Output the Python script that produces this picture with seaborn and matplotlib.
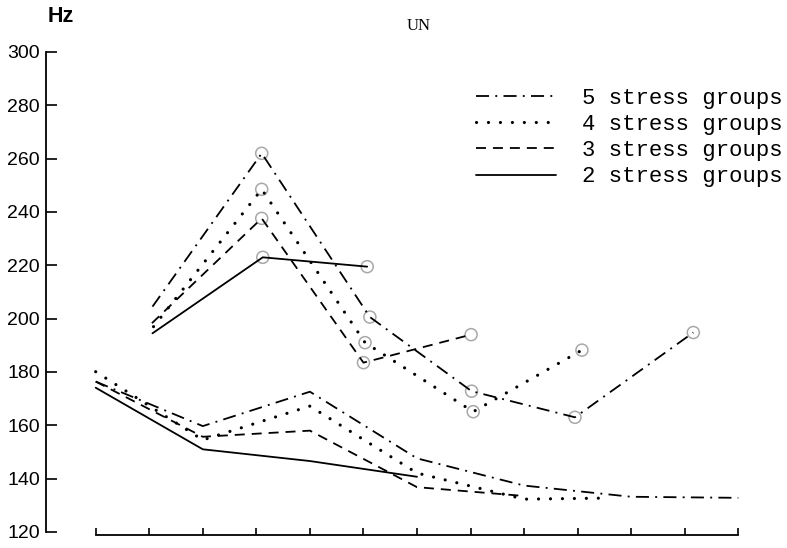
import matplotlib
matplotlib.use("Agg")
import matplotlib.pyplot as plt
import seaborn as sns
from matplotlib.lines import Line2D

# ---------------- data ----------------
group_labels = ["5 stress groups", "4 stress groups", "3 stress groups", "2 stress groups"]

g5_upper_x = [1.06, 3.10, 5.12, 7.02, 8.95, 11.16]
g5_upper_hz = [204.5, 262.0, 200.6, 172.8, 163.0, 194.8]
g5_lower_x = [0, 2, 4, 6, 8, 10, 12]
g5_lower_hz = [176.4, 159.7, 172.6, 147.6, 137.4, 133.2, 132.8]

g4_upper_x = [1.08, 3.10, 5.03, 7.05, 9.08]
g4_upper_hz = [197.0, 248.5, 191.0, 165.1, 188.2]
g4_lower_x = [0, 2, 4, 6, 8, 9.5]
g4_lower_hz = [180.1, 154.5, 167.2, 142.1, 132.3, 132.7]

g3_upper_x = [1.05, 3.10, 5.00, 7.01]
g3_upper_hz = [198.3, 237.6, 183.5, 194.0]
g3_lower_x = [0, 2, 4, 6, 8]
g3_lower_hz = [176.4, 155.7, 158.0, 136.8, 133.5]

g2_upper_x = [1.06, 3.12, 5.07]
g2_upper_hz = [194.5, 223.0, 219.5]
g2_lower_x = [0, 2, 4, 6]
g2_lower_hz = [174.1, 151.0, 146.6, 140.7]

y_ticks = [120, 140, 160, 180, 200, 220, 240, 260, 280, 300]
x_ticks = list(range(13))

# ---------------- style ----------------
sns.set_theme(style="ticks")
plt.rcParams["font.family"] = ["Liberation Sans", "DejaVu Sans"]
plt.rcParams["lines.scale_dashes"] = False

W, H = 787, 548
fig = plt.figure(figsize=(W / 100, H / 100), dpi=100)
fig.patch.set_facecolor("white")

# axes placement in pixels: x=0 -> 95.7 px, 53.55 px per step; 120 Hz -> 532 px, 2.667 px/Hz
left_px, right_px = 46, 787
top_px, bot_px = 52, 545.3
ax = fig.add_axes([left_px / W, (H - bot_px) / H, (right_px - left_px) / W, (bot_px - top_px) / H])
ax.set_facecolor("white")
ax.set_xlim((left_px - 95.7) / 53.55, (right_px - 95.7) / 53.55)
ax.set_ylim(115, 300)

LW = 1.3
styles = {
    "5 stress groups": dict(linestyle=(0, (9.4, 4.5, 1.4, 4.5)), lw=LW, dash_capstyle="butt"),
    "4 stress groups": dict(linestyle=(0, (0.01, 8.6)), lw=2.3, dash_capstyle="round"),
    "3 stress groups": dict(linestyle=(0, (7.2, 5.0)), lw=LW, dash_capstyle="butt"),
    "2 stress groups": dict(linestyle="-", lw=LW),
}

series = {
    "5 stress groups": [(g5_upper_x, g5_upper_hz), (g5_lower_x, g5_lower_hz)],
    "4 stress groups": [(g4_upper_x, g4_upper_hz), (g4_lower_x, g4_lower_hz)],
    "3 stress groups": [(g3_upper_x, g3_upper_hz), (g3_lower_x, g3_lower_hz)],
    "2 stress groups": [(g2_upper_x, g2_upper_hz), (g2_lower_x, g2_lower_hz)],
}

for name, segs in series.items():
    for xs, ys in segs:
        sns.lineplot(x=xs, y=ys, ax=ax, color="black", sort=False, estimator=None,
                     legend=False, **styles[name])

# pencil circles at the upper-curve vertices
for name, segs in series.items():
    xs, ys = segs[0]
    ax.scatter(xs[1:], ys[1:], s=75, facecolors="none", edgecolors="#a8a8a8",
               linewidths=1.1, zorder=1)

ax.set_xlabel("")
ax.set_ylabel("")

# spines
for s in ["top", "right"]:
    ax.spines[s].set_visible(False)
ax.spines["left"].set_bounds(120, 300)
ax.spines["bottom"].set_bounds(0, 12)
ax.spines["bottom"].set_position(("data", 119))
for s in ["left", "bottom"]:
    ax.spines[s].set_color("black")
    ax.spines[s].set_linewidth(1.3)

ax.set_yticks(y_ticks)
ax.set_yticklabels([str(v) for v in y_ticks], fontsize=14, color="black")
ax.set_xticks(x_ticks)
ax.tick_params(axis="y", which="major", left=True, direction="in", length=8, width=1.2,
               pad=4.3, colors="black")
ax.tick_params(axis="x", which="major", bottom=True, direction="in", length=5, width=1.2,
               labelbottom=False, colors="black")
ax.grid(False)

# legend
handles = [Line2D([0], [0], color="black", **styles[n]) for n in group_labels]
leg = ax.legend(handles, group_labels, loc="upper left",
                bbox_to_anchor=(476 / W, 1 - 87.7 / H), bbox_transform=fig.transFigure,
                frameon=False, handlelength=3.6, handletextpad=1.17, labelspacing=0.235,
                borderpad=0, borderaxespad=0,
                prop={"family": "Liberation Mono", "size": 16})
for t in leg.get_texts():
    t.set_color("black")

# texts
fig.text(61 / W, 1 - 16.5 / H, "Hz", ha="center", va="center", fontsize=15.5,
         fontweight="bold", color="black", family="Liberation Sans")
fig.text(419 / W, 1 - 26.5 / H, "UN", ha="center", va="center", fontsize=12,
         color="black", family="Liberation Serif")

fig.savefig("out.png", dpi=100)
